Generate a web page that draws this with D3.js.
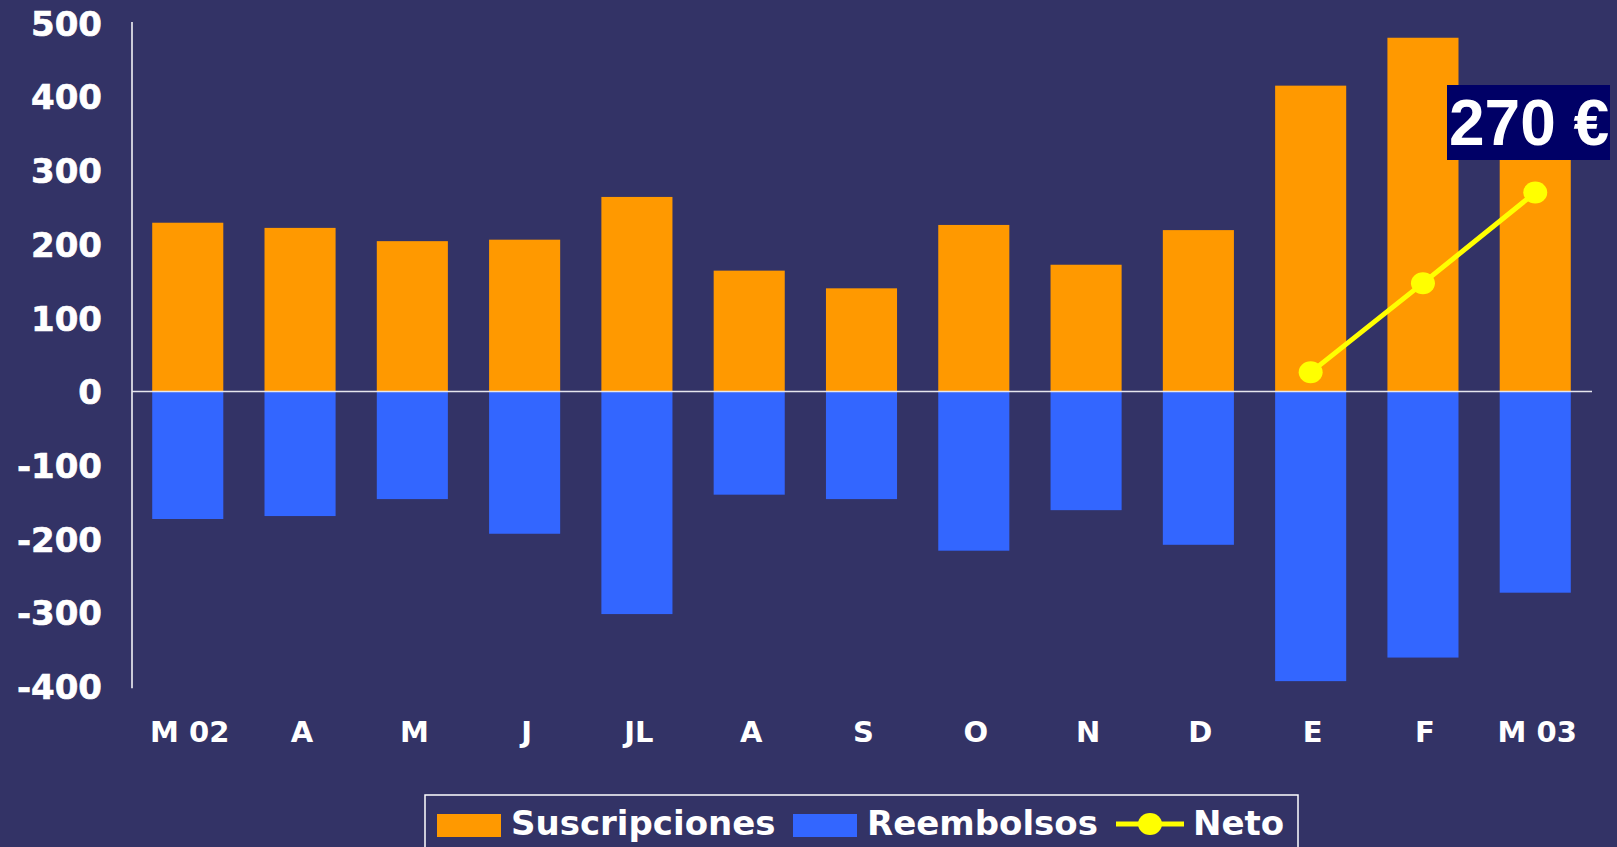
<!DOCTYPE html>
<html>
<head>
<meta charset="utf-8">
<script src="https://cdn.jsdelivr.net/npm/d3@7"></script>
<style>
    html, body { margin: 0; padding: 0; background: #333366; }
    svg { display: block; }
</style>
</head>
<body>
<div id="chart"></div>
<script>
var months = ["M 02", "A", "M", "J", "JL", "A", "S", "O", "N", "D", "E", "F", "M 03"];
var suscripciones = [229, 222, 204, 206, 264, 164, 140, 226, 172, 219, 415, 480, 395];
var reembolsos = [-173, -169, -146, -193, -302, -140, -146, -216, -161, -208, -393, -361, -273];
var neto = [null, null, null, null, null, null, null, null, null, null, 26, 147, 270];
var yTicks = [500, 400, 300, 200, 100, 0, -100, -200, -300, -400];
var calloutText = "270 €";
var legendItems = ["Suscripciones", "Reembolsos", "Neto"];

var W = 1617, H = 847;
var font = "'DejaVu Sans', Verdana, sans-serif";

var svg = d3.select("#chart")
    .append("svg")
    .attr("width", W)
    .attr("height", H);

svg.append("rect")
    .attr("width", W)
    .attr("height", H)
    .attr("fill", "#333366");

var xScale = d3.scaleBand()
    .domain(months.map(function(d, i) { return i; }))
    .range([132, 1591])
    .paddingInner(0.367)
    .paddingOuter(0.18);

var yScale = d3.scaleLinear()
    .domain([-400, 500])
    .range([686.3, 23]);

// bars
svg.append("g").selectAll("rect")
    .data(suscripciones)
    .enter().append("rect")
    .attr("x", function(d, i) { return xScale(i); })
    .attr("y", function(d) { return yScale(d); })
    .attr("width", xScale.bandwidth())
    .attr("height", function(d) { return yScale(0) - yScale(d); })
    .attr("fill", "#FF9900");

svg.append("g").selectAll("rect")
    .data(reembolsos)
    .enter().append("rect")
    .attr("x", function(d, i) { return xScale(i); })
    .attr("y", yScale(0))
    .attr("width", xScale.bandwidth())
    .attr("height", function(d) { return yScale(d) - yScale(0); })
    .attr("fill", "#3366FF");

// y axis (plain hyphen for negatives, like the original)
var yAxis = d3.axisLeft(yScale)
    .tickValues(yTicks)
    .tickSize(0)
    .tickSizeOuter(0)
    .tickPadding(30)
    .tickFormat(function(d) { return String(d); });

var gY = svg.append("g")
    .attr("transform", "translate(132,0)")
    .call(yAxis);

gY.select(".domain")
    .attr("stroke", "#ffffff")
    .attr("stroke-width", 1.5)
    .attr("d", "M0," + (yScale(500) - 1) + "V" + (yScale(-400) + 2));

gY.selectAll("text")
    .attr("fill", "#ffffff")
    .attr("dy", "0.36em")
    .attr("stroke", "#ffffff")
    .attr("stroke-width", 0.6)
    .style("font-family", font)
    .style("font-weight", "bold")
    .style("font-size", "34px");

// zero line
svg.append("line")
    .attr("x1", 132)
    .attr("x2", 1592)
    .attr("y1", yScale(0))
    .attr("y2", yScale(0))
    .attr("stroke", "#e6e6ee")
    .attr("stroke-width", 1.5);

// x labels
svg.append("g").selectAll("text")
    .data(months)
    .enter().append("text")
    .attr("x", function(d, i) { return xScale(i) + xScale.bandwidth() / 2 + 2; })
    .attr("y", 742)
    .attr("text-anchor", "middle")
    .attr("fill", "#ffffff")
    .style("font-family", font)
    .style("font-weight", "bold")
    .style("font-size", "29px")
    .text(function(d) { return d; });

// neto line
var netPoints = neto.map(function(d, i) { return {i: i, v: d}; })
    .filter(function(d) { return d.v !== null; });

var line = d3.line()
    .x(function(d) { return xScale(d.i) + xScale.bandwidth() / 2; })
    .y(function(d) { return yScale(d.v); });

svg.append("path")
    .datum(netPoints)
    .attr("fill", "none")
    .attr("stroke", "#FFFF00")
    .attr("stroke-width", 5)
    .attr("d", line);

svg.append("g").selectAll("ellipse")
    .data(netPoints)
    .enter().append("ellipse")
    .attr("cx", function(d) { return xScale(d.i) + xScale.bandwidth() / 2; })
    .attr("cy", function(d) { return yScale(d.v); })
    .attr("rx", 12)
    .attr("ry", 11)
    .attr("fill", "#FFFF00");

// callout box
svg.append("clipPath")
    .attr("id", "calloutClip")
    .append("rect")
    .attr("x", 1447)
    .attr("y", 85)
    .attr("width", 163)
    .attr("height", 75);

svg.append("rect")
    .attr("x", 1447)
    .attr("y", 85)
    .attr("width", 163)
    .attr("height", 75)
    .attr("fill", "#000066");

svg.append("text")
    .attr("x", 1449)
    .attr("y", 145)
    .attr("clip-path", "url(#calloutClip)")
    .attr("fill", "#ffffff")
    .style("font-family", "'Liberation Sans', Arial, sans-serif")
    .style("font-weight", "bold")
    .style("font-size", "64px")
    .text(calloutText);

// legend
var legend = svg.append("g");

legend.append("rect")
    .attr("x", 425)
    .attr("y", 795)
    .attr("width", 873)
    .attr("height", 80)
    .attr("fill", "none")
    .attr("stroke", "#ffffff")
    .attr("stroke-width", 1.5);

legend.append("rect")
    .attr("x", 437).attr("y", 814)
    .attr("width", 64).attr("height", 23)
    .attr("fill", "#FF9900");

legend.append("rect")
    .attr("x", 793).attr("y", 814)
    .attr("width", 64).attr("height", 23)
    .attr("fill", "#3366FF");

legend.append("line")
    .attr("x1", 1116).attr("x2", 1184)
    .attr("y1", 824).attr("y2", 824)
    .attr("stroke", "#FFFF00")
    .attr("stroke-width", 5);

legend.append("ellipse")
    .attr("cx", 1150).attr("cy", 824)
    .attr("rx", 12).attr("ry", 11)
    .attr("fill", "#FFFF00");

var legendX = [511, 867, 1193];
legend.selectAll("text.item")
    .data(legendItems)
    .enter().append("text")
    .attr("class", "item")
    .attr("x", function(d, i) { return legendX[i]; })
    .attr("y", 835)
    .attr("fill", "#ffffff")
    .style("font-family", font)
    .style("font-weight", "bold")
    .style("font-size", "34px")
    .text(function(d) { return d; });
</script>
</body>
</html>
